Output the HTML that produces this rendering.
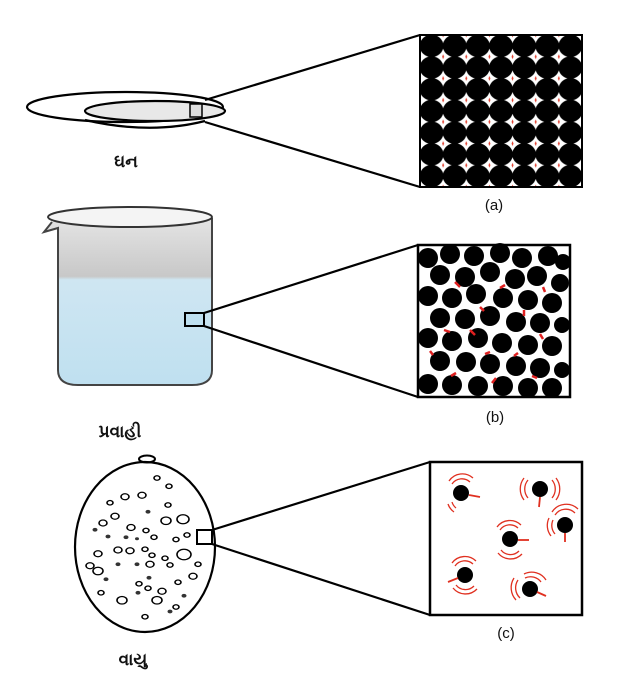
<!DOCTYPE html>
<html><head><meta charset="utf-8"><style>
html,body{margin:0;padding:0;background:#fff}
svg{display:block}
text{font-family:"Liberation Sans","Noto Sans CJK SC",sans-serif}
</style></head><body>
<svg width="620" height="682" viewBox="0 0 620 682" xmlns="http://www.w3.org/2000/svg">
<defs>
<linearGradient id="bk" x1="0" y1="0" x2="0" y2="1">
<stop offset="0" stop-color="#e4e4e4"/><stop offset="0.35" stop-color="#c8c8c8"/><stop offset="0.37" stop-color="#cfe6f2"/><stop offset="1" stop-color="#bfe0f0"/>
</linearGradient>
<pattern id="lat" x="420" y="35" width="23.14" height="21.71" patternUnits="userSpaceOnUse">
<rect width="23.14" height="21.71" fill="#fff"/>
<ellipse cx="11.57" cy="10.85" rx="11.9" ry="11.2" fill="#000"/>
<path d="M0 -2.5 L1 0 L0 2.5 L-1 0Z" fill="#e04030"/>
<path d="M23.14 -2.5 L24.14 0 L23.14 2.5 L22.14 0Z" fill="#e04030"/>
<path d="M0 19.2 L1 21.71 L0 24.2 L-1 21.71Z" fill="#e04030"/>
<path d="M23.14 19.2 L24.14 21.71 L23.14 24.2 L22.14 21.71Z" fill="#e04030"/>
</pattern>
</defs>
<g fill="none" stroke="#000" stroke-width="2.2">
<ellipse cx="125" cy="107" rx="98" ry="15"/>
<path d="M85 120 Q150 135 205 121"/>
<ellipse cx="155" cy="111" rx="70" ry="10" fill="#e8e8e8"/>
<rect x="190" y="104" width="12" height="13" fill="#ddd" stroke-width="1.5"/>
<line x1="205" y1="100" x2="420" y2="35"/>
<line x1="205" y1="122" x2="420" y2="187"/>
<path d="M52 222 L44 232 L58 228 L58 370 Q58 385 78 385 L192 385 Q212 385 212 370 L212 218" fill="url(#bk)" stroke="#444" stroke-width="2"/>
<ellipse cx="130" cy="217" rx="82" ry="10" fill="#f4f4f4" stroke="#333" stroke-width="2"/>
<rect x="185" y="313" width="19" height="13" stroke-width="2" fill="#bfe0f0"/>
<line x1="204" y1="313" x2="418" y2="245"/>
<line x1="204" y1="326" x2="418" y2="397"/>
<ellipse cx="145" cy="547" rx="70" ry="85"/>
<ellipse cx="147" cy="459" rx="8" ry="3.5" stroke-width="2"/>
<rect x="197" y="530" width="15" height="14" stroke-width="2"/>
<line x1="212" y1="530" x2="430" y2="462"/>
<line x1="212" y1="544" x2="430" y2="615"/>
</g>
<rect x="420" y="35" width="162" height="152" fill="url(#lat)" stroke="#000" stroke-width="2"/>
<rect x="418" y="245" width="152" height="152" fill="#fff" stroke="#000" stroke-width="2.5"/>
<g fill="#000">
<circle cx="428" cy="258" r="10"/><circle cx="450" cy="254" r="10"/><circle cx="474" cy="256" r="10"/><circle cx="500" cy="253" r="10"/><circle cx="522" cy="258" r="10"/><circle cx="548" cy="256" r="10"/><circle cx="563" cy="262" r="8"/>
<circle cx="440" cy="275" r="10"/><circle cx="465" cy="277" r="10"/><circle cx="490" cy="272" r="10"/><circle cx="515" cy="279" r="10"/><circle cx="537" cy="276" r="10"/><circle cx="560" cy="283" r="9"/>
<circle cx="428" cy="296" r="10"/><circle cx="452" cy="298" r="10"/><circle cx="476" cy="294" r="10"/><circle cx="503" cy="298" r="10"/><circle cx="528" cy="300" r="10"/><circle cx="552" cy="303" r="10"/>
<circle cx="440" cy="318" r="10"/><circle cx="465" cy="319" r="10"/><circle cx="490" cy="316" r="10"/><circle cx="516" cy="322" r="10"/><circle cx="540" cy="323" r="10"/><circle cx="562" cy="325" r="8"/>
<circle cx="428" cy="338" r="10"/><circle cx="452" cy="341" r="10"/><circle cx="478" cy="338" r="10"/><circle cx="502" cy="343" r="10"/><circle cx="528" cy="345" r="10"/><circle cx="552" cy="346" r="10"/>
<circle cx="440" cy="361" r="10"/><circle cx="466" cy="362" r="10"/><circle cx="490" cy="364" r="10"/><circle cx="516" cy="366" r="10"/><circle cx="540" cy="368" r="10"/><circle cx="562" cy="370" r="8"/>
<circle cx="428" cy="384" r="10"/><circle cx="452" cy="385" r="10"/><circle cx="478" cy="386" r="10"/><circle cx="503" cy="386" r="10"/><circle cx="528" cy="388" r="10"/><circle cx="552" cy="388" r="10"/>
</g>
<g stroke="#e02020" stroke-width="2.5">
<path d="M460 287 l-5 -5"/><path d="M480 307 l4 4"/><path d="M500 288 l5 -3"/><path d="M524 310 l0 6"/><path d="M444 330 l6 2"/><path d="M470 330 l5 5"/><path d="M490 352 l-5 2"/><path d="M540 334 l3 5"/><path d="M514 356 l4 -3"/><path d="M456 373 l-5 3"/><path d="M496 378 l-4 5"/><path d="M532 376 l5 2"/><path d="M545 292 l-2 -5"/><path d="M430 351 l3 4"/>
</g>
<rect x="430" y="462" width="152" height="153" fill="#fff" stroke="#000" stroke-width="2.5"/>
<g fill="#000">
<circle cx="461" cy="493" r="8"/><circle cx="540" cy="489" r="8"/><circle cx="565" cy="525" r="8"/><circle cx="510" cy="539" r="8"/><circle cx="465" cy="575" r="8"/><circle cx="530" cy="589" r="8"/>
</g>
<g fill="none" stroke="#e03020" stroke-width="1.3">
<path d="M452 484 a12 12 0 0 1 18 -2"/><path d="M449 481 a16 16 0 0 1 24 -3"/><path d="M452 502 a12 12 0 0 0 4 6"/><path d="M448 504 a16 16 0 0 0 6 8"/>
<path d="M528 480 a14 14 0 0 0 0 18"/><path d="M524 478 a18 18 0 0 0 0 22"/><path d="M552 480 a14 14 0 0 1 0 18"/><path d="M556 478 a18 18 0 0 1 0 22"/>
<path d="M555 515 a13 13 0 0 1 20 -2"/><path d="M552 512 a17 17 0 0 1 26 -3"/><path d="M553 520 a13 13 0 0 0 2 14"/><path d="M549 518 a17 17 0 0 0 2 18"/>
<path d="M500 530 a12 12 0 0 1 18 -2"/><path d="M497 527 a16 16 0 0 1 24 -2"/><path d="M501 550 a12 12 0 0 0 18 1"/><path d="M498 553 a16 16 0 0 0 24 1"/>
<path d="M455 566 a12 12 0 0 1 18 -2"/><path d="M452 563 a16 16 0 0 1 24 -2"/><path d="M456 585 a12 12 0 0 0 18 1"/><path d="M453 588 a16 16 0 0 0 24 1"/>
<path d="M518 580 a14 14 0 0 0 2 18"/><path d="M514 578 a18 18 0 0 0 2 22"/><path d="M525 578 a13 13 0 0 1 16 4"/><path d="M524 574 a17 17 0 0 1 22 6"/>
</g>
<g stroke="#e03020" stroke-width="1.8">
<line x1="469" y1="495" x2="480" y2="497"/><line x1="540" y1="497" x2="539" y2="507"/><line x1="565" y1="533" x2="565" y2="542"/><line x1="518" y1="540" x2="529" y2="540"/><line x1="458" y1="578" x2="448" y2="582"/><line x1="537" y1="592" x2="546" y2="596"/>
</g>
<g transform="translate(0,478) scale(1,0.75) translate(0,-477)">
<g fill="none" stroke="#000" stroke-width="1.6">
<circle cx="157" cy="477" r="3"/><circle cx="169" cy="488" r="3"/><circle cx="125" cy="502" r="4"/><circle cx="142" cy="500" r="4"/><circle cx="110" cy="510" r="3"/><circle cx="168" cy="513" r="3"/><circle cx="115" cy="528" r="4"/><circle cx="103" cy="537" r="4"/><circle cx="166" cy="534" r="5"/><circle cx="183" cy="532" r="6"/><circle cx="131" cy="543" r="4"/><circle cx="146" cy="547" r="3"/><circle cx="176" cy="559" r="3"/><circle cx="187" cy="553" r="3"/><circle cx="154" cy="556" r="3"/><circle cx="98" cy="578" r="4"/><circle cx="118" cy="573" r="4"/><circle cx="130" cy="574" r="4"/><circle cx="145" cy="572" r="3"/><circle cx="152" cy="580" r="3"/><circle cx="184" cy="579" r="7"/><circle cx="165" cy="584" r="3"/><circle cx="90" cy="594" r="4"/><circle cx="98" cy="601" r="5"/><circle cx="150" cy="592" r="4"/><circle cx="170" cy="593" r="3"/><circle cx="198" cy="592" r="3"/><circle cx="193" cy="608" r="4"/><circle cx="139" cy="618" r="3"/><circle cx="162" cy="628" r="4"/><circle cx="178" cy="616" r="3"/><circle cx="122" cy="640" r="5"/><circle cx="157" cy="640" r="5"/><circle cx="145" cy="662" r="3"/><circle cx="101" cy="630" r="3"/><circle cx="176" cy="649" r="3"/><circle cx="148" cy="624" r="3"/>
</g>
<g fill="#333">
<circle cx="95" cy="546" r="2.5"/><circle cx="126" cy="556" r="2.5"/><circle cx="137" cy="558" r="2"/><circle cx="118" cy="592" r="2.5"/><circle cx="137" cy="592" r="2.5"/><circle cx="106" cy="612" r="2.5"/><circle cx="149" cy="610" r="2.5"/><circle cx="184" cy="634" r="2.5"/><circle cx="170" cy="655" r="2.5"/><circle cx="138" cy="630" r="2.5"/><circle cx="108" cy="555" r="2.5"/><circle cx="148" cy="522" r="2.5"/>
</g>
</g>
<g font-size="17" font-weight="bold" fill="#111" text-anchor="middle">
<text x="126" y="167">ઘન</text>
<text x="120" y="437">પ્રવાહી</text>
<text x="133" y="665">વાયુ</text>
</g>
<g font-size="15" fill="#111" text-anchor="middle">
<text x="494" y="210">(a)</text>
<text x="495" y="422">(b)</text>
<text x="506" y="638">(c)</text>
</g>
</svg>
</body></html>
